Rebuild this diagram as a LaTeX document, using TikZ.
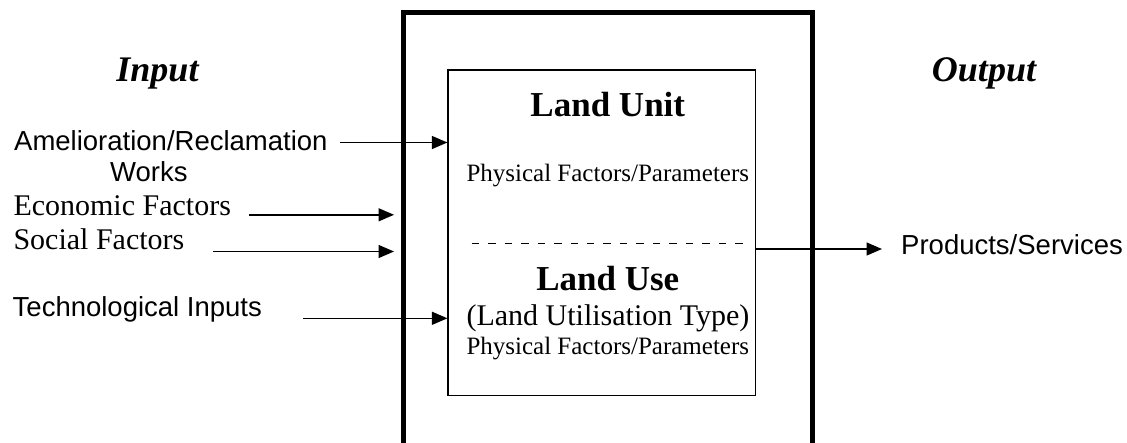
\documentclass[tikz,border=0pt]{standalone}
\usepackage{fontspec}
\setmainfont{Liberation Serif}
\newfontfamily\arialfont{Liberation Sans}
\usetikzlibrary{arrows.meta}
\begin{document}
\begin{tikzpicture}[x=1pt,y=-1pt,
  lbl/.style={inner sep=0pt, anchor=base west},
  ctr/.style={inner sep=0pt, anchor=base},
  sans/.style={font=\arialfont\fontsize{27.5}{32}\selectfont},
  serif/.style={font=\fontsize{30}{36}\selectfont},
  big/.style={font=\fontsize{35}{42}\selectfont\bfseries},
  small/.style={font=\fontsize{25}{30}\selectfont},
  head/.style={font=\fontsize{36}{43}\selectfont\bfseries\itshape},
  arr/.style={line width=1.4pt, -{Triangle[length=15.5pt,width=13pt]}},
]
\useasboundingbox (0,0) rectangle (1127,442);
\fill[white] (0,0) rectangle (1127,442);
% outer thick frame (open at the bottom of the picture)
\coordinate (ob1) at (403.5,446);
\coordinate (ot1) at (403.5,12.5);
\coordinate (ot2) at (812.5,12.5);
\coordinate (ob2) at (812.5,446);
\draw[line width=5pt, line join=miter] (ob1) -- (ot1) -- (ot2) -- (ob2);
% inner box
\node[draw, line width=1.2pt, minimum width=307.5pt, minimum height=325.5pt, inner sep=0pt] (unit) at (601.75,232.75) {};
\node[ctr, big] (lunit) at (607.8,116.7) {Land Unit};
\node[ctr, small] (phys1) at (607.8,181.7) {Physical Factors/Parameters};
\coordinate (dl) at (471.7,243.3);
\coordinate (dr) at (743,243.3);
\draw[line width=1.3pt, dash pattern=on 7.5pt off 8.97pt] (dl) -- (dr);
\node[ctr, big] (luse) at (607.8,290) {Land Use};
\node[ctr, serif] (lut) at (608,325) {(Land Utilisation Type)};
\node[ctr, small] (phys2) at (607.8,354) {Physical Factors/Parameters};
% headings
\node[ctr, head] (input) at (157.5,81.7) {Input};
\node[ctr, head] (output) at (984,81.7) {Output};
% input labels
\node[lbl, sans] (amel) at (14,150.7) {Amelioration/Reclamation};
\node[lbl, sans] (works) at (110,181) {Works};
\node[lbl, serif] (econ) at (13.3,215.7) {Economic Factors};
\node[lbl, serif] (soc) at (13.3,249) {Social Factors};
\node[lbl, sans] (tech) at (12.5,316) {Technological Inputs};
\node[lbl, sans] (prod) at (901,254.3) {Products/Services};
% arrows
\coordinate (sa) at (340,142.5);
\draw[arr] (sa) -- (sa -| unit.west);
\coordinate (se) at (249,214.8);
\coordinate (ee) at (394,214.8);
\draw[arr] (se) -- (ee);
\coordinate (ss) at (213,251.5);
\coordinate (es) at (394,251.5);
\draw[arr] (ss) -- (es);
\coordinate (st) at (303,318.3);
\draw[arr] (st) -- (st -| unit.west);
\coordinate (eo) at (882,249);
\draw[arr] (unit.east |- eo) -- (eo);
\end{tikzpicture}
\end{document}
